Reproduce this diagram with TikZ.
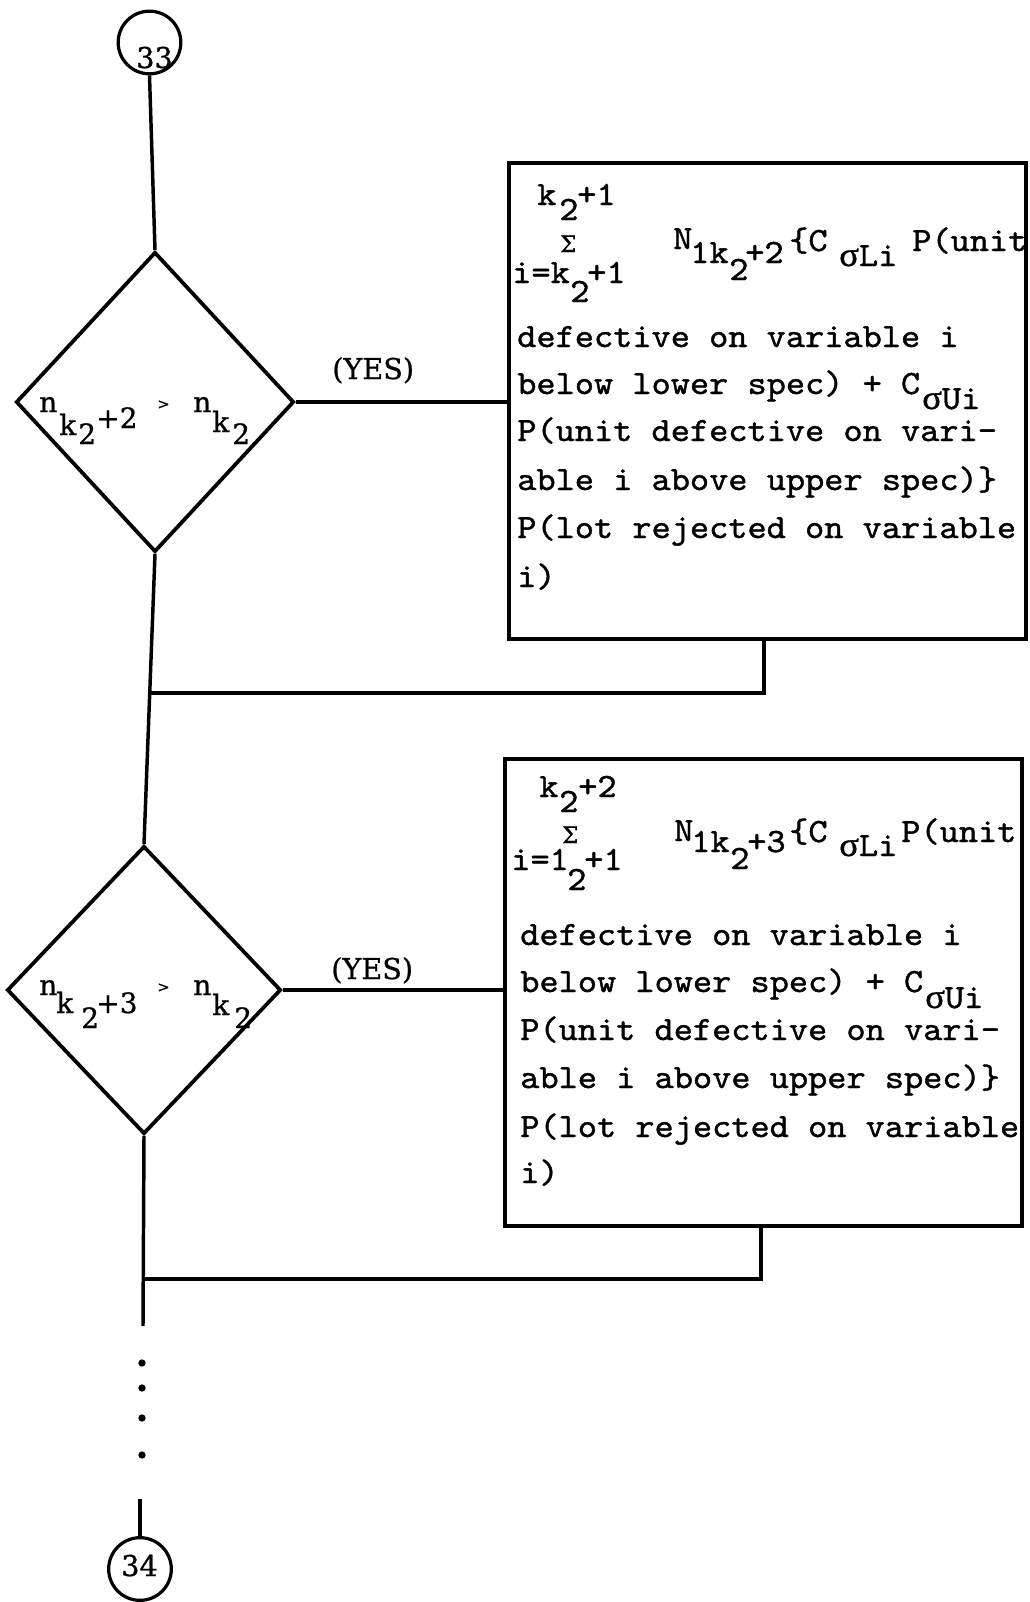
\documentclass[tikz,border=0pt]{standalone}
\usepackage{fontspec}
\usepackage{graphicx}
\usetikzlibrary{shapes.geometric}
\newfontfamily\greekserif{Liberation Serif}[FakeBold=1]
\newfontfamily\labelserif{DejaVu Serif}[FakeBold=0.8]
\newfontfamily\twfam{lmmono10-regular.otf}[FakeBold=1.1]
% typewriter text of the calculation boxes
\newcommand\twfont{\fontsize{25.5}{30}\selectfont\twfam}
\newcommand\tws[1]{\scalebox{1.075}[1]{#1}}
\newcommand\sig{{\greekserif σ}}
\newcommand\sumglyph{{\fontsize{17}{20}\selectfont\labelserif Σ}}
\tikzset{
  flowline/.style={line width=2.6pt},
  decision/.style={diamond, draw, line width=2.8pt, inner sep=0pt},
  calcbox/.style={rectangle, draw, line width=2.5pt, inner sep=0pt},
  connector/.style={circle, draw, line width=2.4pt, minimum size=47pt, inner sep=0pt},
  tw/.style={anchor=base west, inner sep=0pt, font=\twfont},
  rmtext/.style={anchor=base west, inner sep=0pt, font=\fontsize{21}{25}\selectfont\labelserif},
  small/.style={anchor=base west, inner sep=0pt, font=\fontsize{11}{13}\selectfont\labelserif},
  yeslabel/.style={anchor=base west, inner sep=0pt, font=\fontsize{21.5}{25}\selectfont\labelserif},
  numtext/.style={anchor=base west, inner sep=0pt, font=\fontsize{21.5}{25}\selectfont\labelserif},
  sumsign/.style={anchor=base west, inner sep=0pt},
  dot/.style={circle, fill, inner sep=0pt, minimum size=5.5pt},
}
\begin{document}
\begin{tikzpicture}[x=0.75pt, y=-0.75pt]
\fill[white] (0,0) rectangle (1030,1602);
\useasboundingbox (0,0) rectangle (1030,1602);

% off-page connectors
\node[connector] (c33) at (149.5,42.5) {};
\node[numtext] (t33) at (136,68) {33};
\node[connector] (c34) at (140,1569) {};
\node[numtext] (t34) at (121,1576) {34};

% decisions
\node[decision, minimum width=208.5pt, minimum height=225pt] (d1) at (155,402) {};
\node[decision, minimum width=205.5pt, minimum height=216pt] (d2) at (144,990) {};

% calculation boxes
\node[calcbox, minimum width=387.75pt, minimum height=357pt] (b1) at (767.5,401) {};
\node[calcbox, minimum width=387.75pt, minimum height=350.25pt] (b2) at (763.5,992.5) {};

% condition in the first decision
\node[rmtext] (d1a) at (39,412) {n};
\node[rmtext] (d1b) at (59,435) {k};
\node[rmtext] (d1c) at (78,444) {2};
\node[rmtext] (d1d) at (96,428) {+2};
\node[small]  (d1e) at (157,409) {>};
\node[rmtext] (d1f) at (193,412) {n};
\node[rmtext] (d1g) at (212,432) {k};
\node[rmtext] (d1h) at (232,444) {2};

% condition in the second decision
\node[rmtext] (d2a) at (39,995) {n};
\node[rmtext] (d2b) at (56,1013) {k};
\node[rmtext] (d2c) at (81,1028) {2};
\node[rmtext] (d2d) at (96,1013) {+3};
\node[small]  (d2e) at (157,992) {>};
\node[rmtext] (d2f) at (193,995) {n};
\node[rmtext] (d2g) at (212,1015) {k};
\node[rmtext] (d2h) at (234,1028) {2};

% first box: summation header
\node[tw] (b1k)  at (537,205) {\tws{k}};
\node[tw] (b1k2) at (559,220) {\tws{2}};
\node[tw] (b1kp) at (577,205) {\tws{+1}};
\node[sumsign] (b1s) at (560,252) {\sumglyph};
\node[tw] (b1i)  at (512,283) {\tws{i=k}};
\node[tw] (b1i2) at (570,302) {\tws{2}};
\node[tw] (b1ip) at (587,283) {\tws{+1}};
\node[tw] (b1n)  at (673,249) {\tws{N}};
\node[tw] (b1n1) at (690,263) {\tws{1k}};
\node[tw] (b1n2) at (729,280) {\tws{2}};
\node[tw] (b1n3) at (745,263) {\tws{+2}};
\node[tw] (b1c)  at (789,251) {\tws{\{C}};
\node[tw] (b1cs) at (839,266) {\tws{\sig Li}};
\node[tw] (b1p)  at (912,251) {\tws{P(unit}};
% first box: body
\node[tw] (b1l1) at (517,347) {\tws{defective on variable i}};
\node[tw] (b1l2) at (517,394) {\tws{below lower spec) + C}};
\node[tw] (b1l2s) at (922,409) {\tws{\sig Ui}};
\node[tw] (b1l3) at (517,441) {\tws{P(unit defective on vari-}};
\node[tw] (b1l4) at (517,490) {\tws{able i above upper spec)\}}};
\node[tw] (b1l5) at (517,538) {\tws{P(lot rejected on variable}};
\node[tw] (b1l6) at (517,587) {\tws{i)}};

% second box: summation header
\node[tw] (b2k)  at (539,797) {\tws{k}};
\node[tw] (b2k2) at (559,812) {\tws{2}};
\node[tw] (b2kp) at (578,797) {\tws{+2}};
\node[sumsign] (b2s) at (562,843) {\sumglyph};
\node[tw] (b2i)  at (511,870) {\tws{i=1}};
\node[tw] (b2i2) at (567,890) {\tws{2}};
\node[tw] (b2ip) at (584,870) {\tws{+1}};
\node[tw] (b2n)  at (674,841) {\tws{N}};
\node[tw] (b2n1) at (691,852) {\tws{1k}};
\node[tw] (b2n2) at (730,869) {\tws{2}};
\node[tw] (b2n3) at (747,852) {\tws{+3}};
\node[tw] (b2c)  at (789,842) {\tws{\{C}};
\node[tw] (b2cs) at (839,856) {\tws{\sig Li}};
\node[tw] (b2p)  at (901,842) {\tws{P(unit}};
% second box: body
\node[tw] (b2l1) at (520,945) {\tws{defective on variable i}};
\node[tw] (b2l2) at (520,992) {\tws{below lower spec) + C}};
\node[tw] (b2l2s) at (925,1008) {\tws{\sig Ui}};
\node[tw] (b2l3) at (520,1040) {\tws{P(unit defective on vari-}};
\node[tw] (b2l4) at (520,1088) {\tws{able i above upper spec)\}}};
\node[tw] (b2l5) at (520,1137) {\tws{P(lot rejected on variable}};
\node[tw] (b2l6) at (520,1183) {\tws{i)}};

% branch labels
\node[yeslabel] (y1) at (332,379) {(YES)};
\node[yeslabel] (y2) at (331,979) {(YES)};

% connector points
\coordinate (t1) at (764,639);
\coordinate (j1) at (148,693);
\coordinate (t2) at (761,1226);
\coordinate (j2) at (143,1279);
\coordinate (e1) at (143,1326);
\coordinate (e2) at (140,1499);

% continuation dots
\node[dot] (dot1) at (142,1363) {};
\node[dot] (dot2) at (142,1388) {};
\node[dot] (dot3) at (142,1418) {};
\node[dot] (dot4) at (142,1455) {};

% flow lines
\draw[flowline] (c33.south) -- (d1.north);
\draw[flowline] (d1.east) -- (d1.east -| b1.west);
\draw[flowline] (d1.south) -- (d2.north);
\draw[flowline] (t1) |- (j1);
\draw[flowline] (d2.east) -- (d2.east -| b2.west);
\draw[flowline] (d2.south) -- (e1);
\draw[flowline] (t2) |- (j2);
\draw[flowline] (e2) -- (c34.north);
\end{tikzpicture}
\end{document}
